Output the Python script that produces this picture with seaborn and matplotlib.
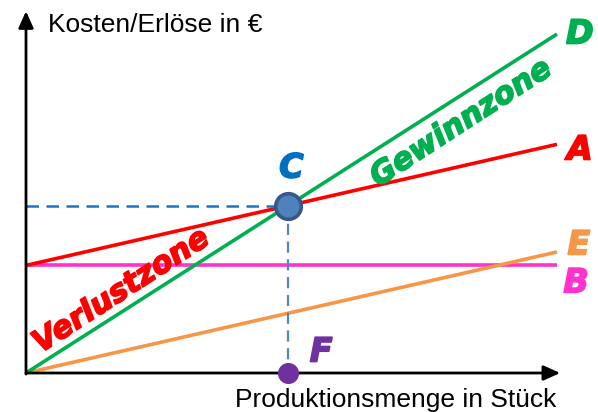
"""Break-even diagram (Kosten/Erlöse vs. Produktionsmenge)."""

import matplotlib

matplotlib.use("Agg")
import matplotlib.patheffects as pe
import matplotlib.pyplot as plt
import pandas as pd
import seaborn as sns

# --- data ---
menge = [0, 100]
fixkosten = [40, 40]        # B
variable_kosten = [0, 45]   # E
gesamtkosten = [40, 85]     # A = B + E
erloes = [0, 126]           # D

colors = {
    "A": "#FF0000",
    "B": "#FF33CC",
    "C": "#0070C0",
    "D": "#00B050",
    "E": "#F79646",
    "F": "#7030A0",
}

df = pd.DataFrame(
    {
        "menge": menge,
        "B": fixkosten,
        "E": variable_kosten,
        "A": gesamtkosten,
        "D": erloes,
    }
)

# break-even point from the lines
price = (erloes[1] - erloes[0]) / (menge[1] - menge[0])
var_unit = (variable_kosten[1] - variable_kosten[0]) / (menge[1] - menge[0])
x_be = fixkosten[0] / (price - var_unit)
y_be = price * x_be

sns.set_style("white")
plt.rcParams["font.family"] = ["Liberation Sans", "DejaVu Sans"]
plt.rcParams["text.color"] = "black"

fig = plt.figure(figsize=(5.98, 4.12), dpi=100)
ax = fig.add_axes([0, 0, 1, 1])

# pixel mapping: x 26px -> 0, 557px -> 100 ; y 373px (from top) -> 0
px_x = 5.31
px_y = 2.69
ax.set_xlim(-26 / px_x, (598 - 26) / px_x)
ax.set_ylim(-(412 - 373) / px_y, 373 / px_y)
for s in ax.spines.values():
    s.set_visible(False)
ax.set_xticks([])
ax.set_yticks([])

# axes with arrows
ax.annotate("", xy=(100.6, 0), xytext=(0, 0),
            arrowprops=dict(arrowstyle="-|>,head_length=1.0,head_width=0.45",
                            color="black", lw=2, shrinkA=0, shrinkB=0))
ax.annotate("", xy=(0, 134.5), xytext=(0, -0.4),
            arrowprops=dict(arrowstyle="-|>,head_length=1.0,head_width=0.45",
                            color="black", lw=2, shrinkA=0, shrinkB=0))

# lines
for key in ["B", "E", "A", "D"]:
    sns.lineplot(data=df, x="menge", y=key, color=colors[key], lw=2.6,
                 ax=ax, solid_capstyle="butt")
ax.set_xlabel("")
ax.set_ylabel("")

# dashed guides to break-even point
ax.plot([0, x_be], [y_be, y_be], color="#1F73C4", lw=1.8, dashes=(5, 3))
ax.plot([x_be, x_be], [y_be, 0], color="#4F86C6", lw=1.6, dashes=(5, 3))

ax.scatter([x_be], [y_be], s=340, color="#4F81BD", edgecolor="#35578A",
           linewidth=2.6, zorder=6)
ax.scatter([x_be], [0], s=200, color=colors["F"], zorder=6)


def bold_text(x, y, s, color, **kw):
    # thicken the glyphs a little to look like a black-weight font
    t = ax.text(x, y, s, color=color, fontweight="bold", style="italic",
                ha="center", va="center", family=["DejaVu Sans"], **kw)
    t.set_path_effects([pe.withStroke(linewidth=1.2, foreground=color)])
    return t


# point labels
bold_text(104.3, 126, "D", colors["D"], fontsize=24)
bold_text(104.3, 82.9, "A", colors["A"], fontsize=24)
bold_text(104.1, 47.6, "E", colors["E"], fontsize=24)
bold_text(103.6, 33.5, "B", colors["B"], fontsize=24)
bold_text(x_be + 0.6, 76.2, "C", colors["C"], fontsize=24)
bold_text(x_be + 6.2, 7.8, "F", colors["F"], fontsize=24)

# zone labels
bold_text(81.9, 92.9, "Gewinnzone", colors["D"], fontsize=22, rotation=33,
          rotation_mode="anchor")
bold_text(17.9, 30.5, "Verlustzone", colors["A"], fontsize=22, rotation=33,
          rotation_mode="anchor")

# axis titles
ax.text(4.1, 129.5, "Kosten/Erlöse in €", fontsize=19, ha="left",
        va="center", color="black")
ax.text(99.9, -10.2, "Produktionsmenge in Stück", fontsize=19, ha="right",
        va="center", color="black")

fig.savefig("out.png", dpi=100)
